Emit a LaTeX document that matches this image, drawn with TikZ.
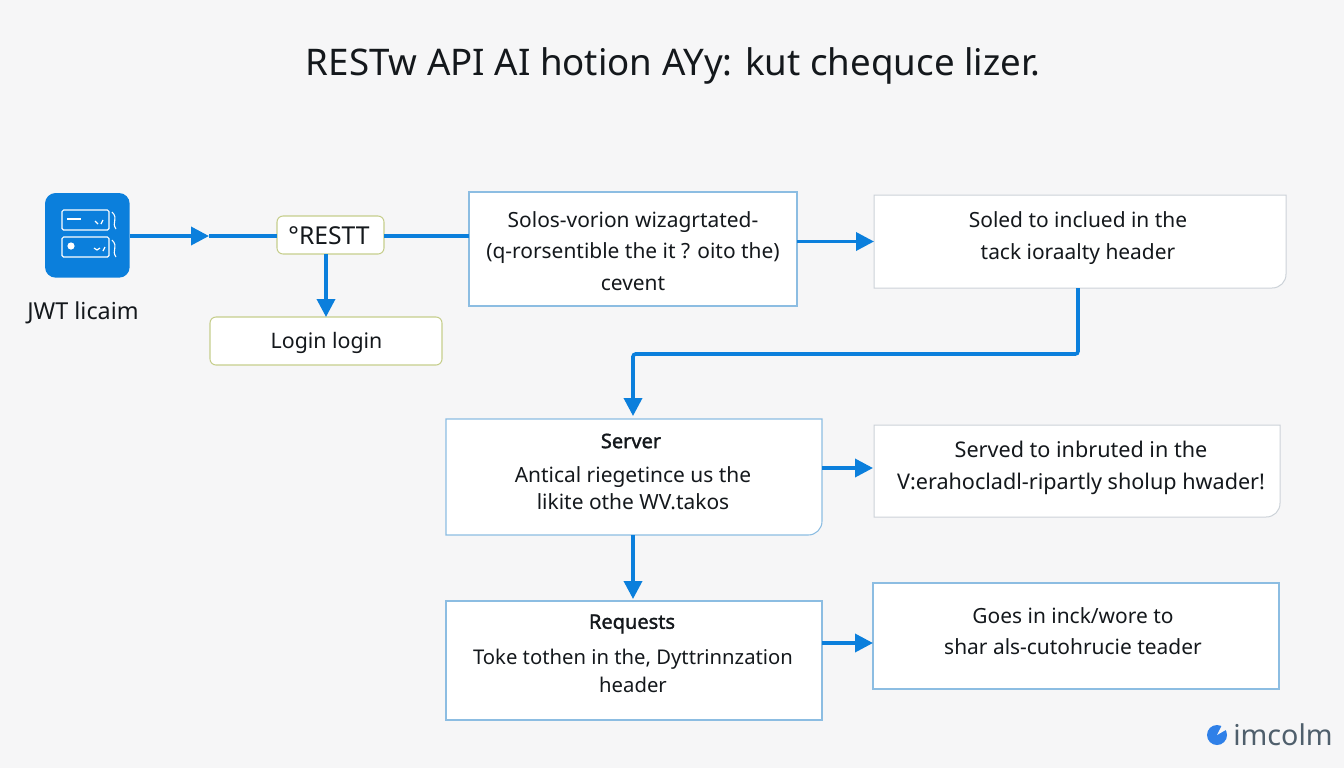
\documentclass[tikz,border=0pt]{standalone}
\usepackage{fontspec}
\setmainfont{Noto Sans}
\newfontfamily\headfont[FakeBold=1.6]{Noto Sans}
\usetikzlibrary{arrows.meta,calc}
\definecolor{bgc}{HTML}{F6F6F7}
\definecolor{flow}{HTML}{0B7FDC}
\definecolor{ink}{HTML}{14181C}
\definecolor{olive}{HTML}{C6CE8C}
\definecolor{skyb}{HTML}{8CBDE2}
\definecolor{greyb}{HTML}{CCD2D8}
\definecolor{logoink}{HTML}{4F5F6C}
\definecolor{logob}{HTML}{2F80E8}
\tikzset{
  x=0.75pt,y=-0.75pt,
  boxnode/.style={inner sep=0pt,outer sep=0pt,anchor=north west},
  sqbox/.style={draw=skyb,line width=0.8pt,fill=white},
  greybox/.style={draw=greyb,line width=0.75pt,fill=white},
  olivebox/.style={draw=olive,line width=0.8pt,fill=white,rounded corners=4.5pt},
  body/.style={text=ink,align=center,font=\fontsize{15.7pt}{23.5pt}\selectfont},
  head/.style={text=ink,font=\headfont\fontsize{15pt}{18pt}\selectfont},
  link/.style={draw=flow,line width=2.7pt},
  flowarrow/.style={link,-{Triangle[length=13.5pt,width=13.5pt]}},
  iconline/.style={draw=white,line width=0.9pt,rounded corners=1.2pt},
}
\newcommand{\roundbox}[6]{% name, style, x1, y1, x2, y2
  \node[boxnode,minimum width=#5*0.75pt-#3*0.75pt,minimum height=#6*0.75pt-#4*0.75pt] (#1) at (#3,#4) {};
  \path[#2] (#1.north west) -- (#1.north east) -- ([yshift=10.5pt]#1.south east)
    .. controls ([yshift=4.5pt]#1.south east) and ([xshift=-4.5pt]#1.south east) .. ([xshift=-10.5pt]#1.south east)
    -- (#1.south west) -- cycle;
}
\begin{document}
\begin{tikzpicture}
\useasboundingbox (0,0) rectangle (1344,768);
\fill[bgc] (0,0) rectangle (1344,768);

\node[text=ink,font=\fontsize{27.5pt}{32pt}\selectfont] (title) at (673,66) {RESTw API AI hotion AYy: kut chequce lizer.};

% icon
\node[boxnode,fill=flow,rounded corners=8pt,minimum width=63.5pt,minimum height=63.5pt] (icon) at (45,193) {};
\draw[iconline] (62,210) rectangle (109,230);
\draw[iconline] (62,237) rectangle (109,257);
\draw[white,line width=1.1pt] (67,219) -- (81,219);
\fill[white] (71,246) circle (3.6);
\draw[white,line width=0.9pt] (95,221) -- (98,224) (103,220) -- (101,224);
\draw[white,line width=0.9pt] (94,248) -- (97,250) -- (100,248) (105,247) -- (103,251);
\draw[white,line width=0.8pt] (112,212) .. controls (119,219) and (111,222) .. (116,229);
\draw[white,line width=0.8pt] (112,240) .. controls (119,247) and (111,250) .. (116,257);
\node[text=ink,font=\fontsize{17.5pt}{20pt}\selectfont] (jwt) at (83,313) {JWT licaim};

% boxes
\node[boxnode,olivebox,minimum width=80.25pt,minimum height=28.5pt] (rest) at (277,216) {};
\node[text=ink,font=\fontsize{18.5pt}{20pt}\selectfont] (restt) at (329,236) {°RESTT};
\node[boxnode,olivebox,minimum width=174pt,minimum height=36pt] (login) at (210,317) {};
\node[text=ink,font=\fontsize{16pt}{18pt}\selectfont] (logintext) at (326.5,342.5) {Login login};

\node[boxnode,sqbox,minimum width=246pt,minimum height=85.5pt] (b1) at (469,192) {};
\node[body] (b1t) at (633,251) {Solos-vorion wizagrtated-\\(q-rorsentible the it ? oito the)\\cevent};

\roundbox{b2}{greybox}{874}{195}{1286}{288}
\node[body] (b2t) at (1078,238) {Soled to inclued in the\\tack ioraalty header};

\roundbox{server}{sqbox}{446}{419}{822}{535}
\node[head] (st) at (631,441) {Server};
\node[body,font=\fontsize{15.7pt}{20pt}\selectfont] (sb) at (633,488) {Antical riegetince us the\\likite othe WV.takos};

\roundbox{b4}{greybox}{874}{425}{1280}{517}
\node[body,font=\fontsize{16.2pt}{24.5pt}\selectfont] (b4t) at (1081,468) {Served to inbruted in the\\V:erahocladl-ripartly sholup hwader!};

\node[boxnode,sqbox,minimum width=282pt,minimum height=89.25pt] (req) at (446,601) {};
\node[head] (rt) at (632,624) {Requests};
\node[body,font=\fontsize{15.2pt}{21pt}\selectfont] (rb) at (633,671) {Toke tothen in the, Dyttrinnzation\\header};

\node[boxnode,sqbox,minimum width=304.5pt,minimum height=79.5pt] (b6) at (873,583) {};
\node[body] (b6t) at (1073,631) {Goes in inck/wore to\\shar als-cutohrucie teader};

% connectors
\coordinate (arrowmid) at (209,236);
\coordinate (restin) at (rest.west |- arrowmid);
\coordinate (iconout) at (icon.east |- arrowmid);
\coordinate (restdown) at (326,254);
\coordinate (restright) at (rest.east |- arrowmid);
\coordinate (b1in) at (b1.west |- arrowmid);
\coordinate (b1out) at (b1.east |- b2.west);
\coordinate (b2down) at (1078,288);
\coordinate (bendr) at (1078,354);
\coordinate (bendl) at (633,354);
\coordinate (serverin) at (633,416);
\coordinate (serverout) at (633,535);
\coordinate (reqin) at (633,599);
\coordinate (sr) at (822,468);
\coordinate (b4in) at (873,468);
\coordinate (rr) at (822,643);
\coordinate (b6in) at (873,643);

\draw[flowarrow] (iconout) -- (arrowmid);
\draw[link] (arrowmid) -- (restin);
\draw[link] (restright) -- (b1in);
\draw[flowarrow] (restdown) -- (login.north -| restdown);
\draw[flowarrow] (b1out) -- (b2.west);
\draw[flowarrow,rounded corners=2pt] (b2down) -- (bendr) -- (bendl) -- (serverin);
\draw[flowarrow] (serverout) -- (reqin);
\draw[flowarrow] (sr) -- (b4in);
\draw[flowarrow] (rr) -- (b6in);

% logo
\fill[logob] (1217,735) circle (10);
\fill[bgc] (1217,735) -- (1229,728) -- (1223,723) -- cycle;
\node[text=logoink,font=\fontsize{21.5pt}{24pt}\selectfont] (logo) at (1283,735) {imcolm};
\end{tikzpicture}
\end{document}
